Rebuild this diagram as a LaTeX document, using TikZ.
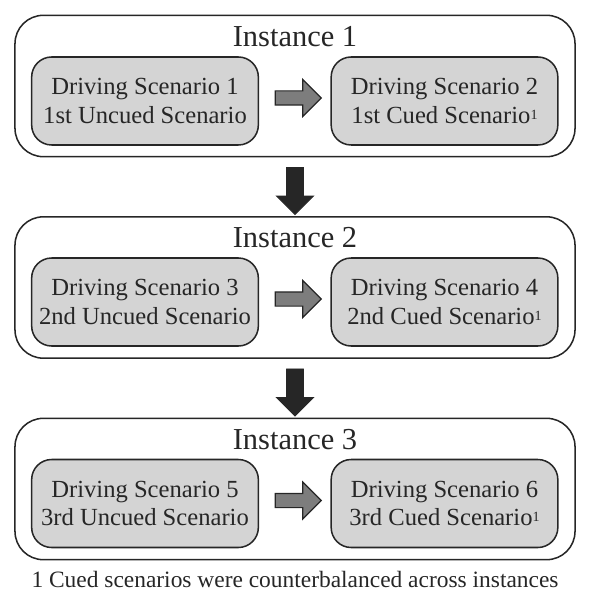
\documentclass[tikz,border=0pt]{standalone}
\usepackage{fontspec}
\setmainfont{Liberation Serif}
\usetikzlibrary{calc, shapes.arrows}
\definecolor{boxgray}{RGB}{212,212,212}
\definecolor{arrgray}{RGB}{125,125,125}
\definecolor{inkgray}{RGB}{38,38,38}

\begin{document}
\begin{tikzpicture}[x=0.03cm, y=-0.03cm, thick,
    instance/.style={draw=inkgray, line width=1.3pt, rounded corners=0.85cm, minimum width=16.8cm, minimum height=4.24cm},
    scenario/.style={draw=inkgray, line width=1.3pt, fill=boxgray, rounded corners=0.6cm, minimum width=6.8cm, minimum height=2.64cm, align=center, text=inkgray, font=\fontsize{21}{24}\selectfont},
    title/.style={text=inkgray, font=\fontsize{26}{30}\selectfont},
    grayarrow/.style={single arrow, draw=inkgray, line width=1pt, fill=arrgray, inner xsep=0pt, inner ysep=0.195cm, minimum width=1.08cm, minimum height=1.38cm, single arrow head extend=0.345cm},
    blackarrow/.style={single arrow, draw=inkgray, fill=inkgray, inner xsep=0pt, inner ysep=0.24cm, minimum width=1.08cm, minimum height=1.41cm, single arrow head extend=0.3cm, rotate=-90}]
    \useasboundingbox (0,0) rectangle (589,600);
		\node[instance] (i1) at (295,86) {};
		\node[instance] (i2) at (295,287.5) {};
		\node[instance] (i3) at (295,489) {};
		\node[title] (t1) at (295,37) {Instance 1};
		\node[title] (t2) at (295,238) {Instance 2};
		\node[title] (t3) at (295,440) {Instance 3};
		\node[scenario] (s1) at (145,101) {Driving Scenario 1\\1st Uncued Scenario};
		\node[scenario] (s2) at (444.5,101) {Driving Scenario 2\\1st Cued Scenario{\fontsize{12}{12}\selectfont\raisebox{0.6ex}{1}}};
		\node[scenario] (s3) at (145,302) {Driving Scenario 3\\2nd Uncued Scenario};
		\node[scenario] (s4) at (444.5,302) {Driving Scenario 4\\2nd Cued Scenario{\fontsize{12}{12}\selectfont\raisebox{0.6ex}{1}}};
		\node[scenario] (s5) at (145,503.5) {Driving Scenario 5\\3rd Uncued Scenario};
		\node[scenario] (s6) at (444.5,503.5) {Driving Scenario 6\\3rd Cued Scenario{\fontsize{12}{12}\selectfont\raisebox{0.6ex}{1}}};
		\node[grayarrow] (a12) at ($(s1.east)!0.5!(s2.west)+(0,-3)$) {};
		\node[grayarrow] (a34) at ($(s3.east)!0.5!(s4.west)+(0,-3)$) {};
		\node[grayarrow] (a56) at ($(s5.east)!0.5!(s6.west)+(0,-3)$) {};
		\node[blackarrow] (d12) at ($(i1.south)!0.5!(i2.north)$) {};
		\node[blackarrow] (d23) at ($(i2.south)!0.5!(i3.north)$) {};
		\node[text=inkgray, font=\fontsize{20}{24}\selectfont] (note) at (295,579) {1 Cued scenarios were counterbalanced across instances};
	\end{tikzpicture}
\end{document}
